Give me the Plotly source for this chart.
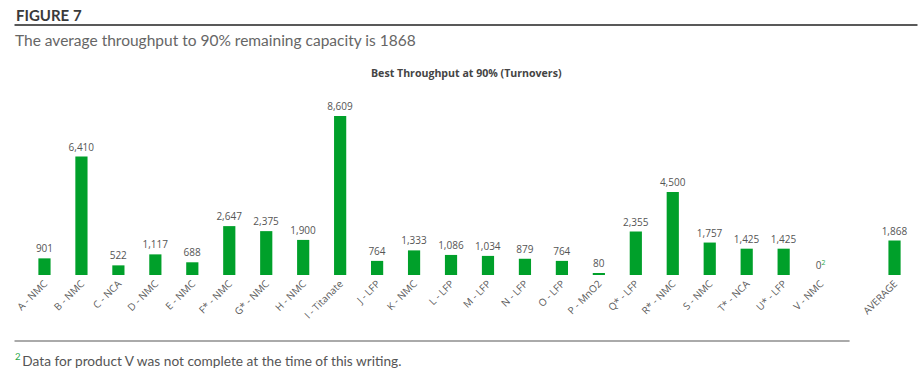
import plotly.graph_objects as go

categories = ["A - NMC", "B - NMC", "C - NCA", "D - NMC", "E - NMC", "F* - NMC", "G* - NMC",
              "H - NMC", "I - Titanate", "J - LFP", "K - NMC", "L - LFP", "M - LFP", "N - LFP",
              "O - LFP", "P - MnO2", "Q* - LFP", "R* - NMC", "S - NMC", "T* - NCA", "U* - LFP",
              "V - NMC", " ", "AVERAGE"]
values = [901, 6410, 522, 1117, 688, 2647, 2375, 1900, 8609, 764, 1333, 1086, 1034, 879,
          764, 80, 2355, 4500, 1757, 1425, 1425, 0, None, 1868]
value_labels = ["901", "6,410", "522", "1,117", "688", "2,647", "2,375", "1,900", "8,609", "764",
                "1,333", "1,086", "1,034", "879", "764", "80", "2,355", "4,500", "1,757", "1,425",
                "1,425", "0<span style='color:#2aa84a'><sup>2</sup></span>", "", "1,868"]

W, H = 918, 378
PL, PR, PT, PB = 25.5, 913.5, 95, 275   # plot area in screen pixels
ML, MR, MT, MB = PL, W - PR, PT, H - PB
PW, PH = PR - PL, PB - PT

def px(x):
    return (x - PL) / PW

def py(y):
    return (PB - y) / PH

GREEN = "#00a02a"
LABEL_FONT = dict(size=10, color="#555555", family="Open Sans")
fig = go.Figure(go.Bar(
    x=categories, y=values, text=value_labels, textposition="outside",
    marker=dict(color=GREEN, line=dict(width=0)),
    textfont=LABEL_FONT, outsidetextfont=LABEL_FONT, constraintext="none",
    cliponaxis=False, hoverinfo="x+y",
))

fig.update_layout(
    width=W, height=H, margin=dict(l=ML, r=MR, t=MT, b=MB, pad=0),
    paper_bgcolor="white", plot_bgcolor="white", showlegend=False,
    bargap=0.67,
    font=dict(family="Open Sans", color="#555555"),
    xaxis=dict(type="category", tickangle=-45, tickfont=dict(size=10, color="#5a5a5a"),
               showgrid=False, showline=False, ticks="", automargin=False),
    yaxis=dict(range=[0, 180 / 0.01847], visible=False, showgrid=False, zeroline=False,
               automargin=False),
    shapes=[
        dict(type="line", xref="paper", yref="paper", x0=px(14), x1=px(918), y0=py(25), y1=py(25),
             line=dict(color="#222222", width=1.5)),
        dict(type="line", xref="paper", yref="paper", x0=px(14), x1=px(850), y0=py(341), y1=py(341),
             line=dict(color="#aaaaaa", width=2)),
    ],
    annotations=[
        dict(text="<b>FIGURE 7</b>", xref="paper", yref="paper", x=px(13), y=py(14.5),
             xanchor="left", yanchor="middle", showarrow=False,
             font=dict(family="Lato", size=15, color="#3a3a3a")),
        dict(text="The average throughput to 90% remaining capacity is 1868", xref="paper", yref="paper",
             x=px(12), y=py(40), xanchor="left", yanchor="middle", showarrow=False,
             font=dict(family="Lato", size=15.5, color="#666666")),
        dict(text="<b>Best Throughput at 90% (Turnovers)</b>", xref="paper", yref="paper",
             x=px(466.5), y=py(73), xanchor="center", yanchor="middle", showarrow=False,
             font=dict(family="Open Sans", size=10.6, color="#444444")),
        dict(text="<span style='color:#2aa84a'><sup>2</sup></span>\u2009Data for product V was not complete at the time of this writing.",
             xref="paper", yref="paper", x=px(12), y=py(360), xanchor="left", yanchor="middle",
             showarrow=False, font=dict(family="Lato", size=13.7, color="#555555")),
    ],
)

fig.write_html("out.html", config={"displayModeBar": False},
               post_script="document.body.style.margin='0';")
